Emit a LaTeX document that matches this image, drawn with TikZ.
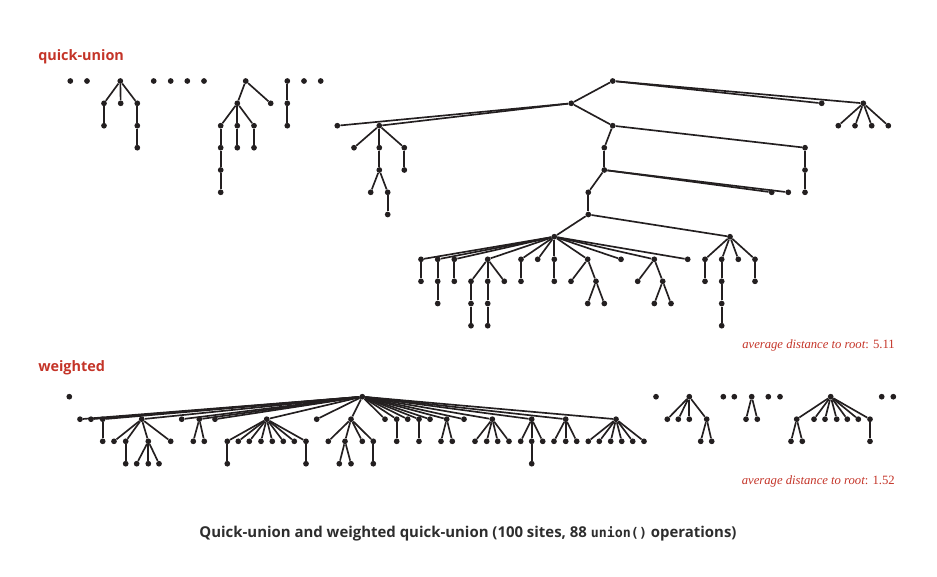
\documentclass[tikz,border=0pt]{standalone}
\usepackage{fontspec}
\setmainfont{Liberation Serif}
\newfontfamily\labfont{Open Sans}
\newfontfamily\codefont{DejaVu Sans Mono}
\definecolor{lab}{RGB}{196,52,40}
\definecolor{ink}{RGB}{35,31,32}
\definecolor{cap}{RGB}{45,45,45}
\begin{document}
\begin{tikzpicture}[x=0.75pt,y=-0.75pt,
  dot/.style={circle,fill=ink,inner sep=0pt,minimum size=4.3pt},
  edge/.style={draw=ink,line width=1.25pt},
  title/.style={anchor=base west,text=lab,font=\labfont\bfseries\fontsize{10.8}{13}\selectfont,inner sep=0pt},
  avg/.style={anchor=base east,text=lab,font=\fontsize{9.5}{11}\selectfont,inner sep=0pt}]
\useasboundingbox (0,0) rectangle (937,576);
% ---------- quick-union ----------
\foreach \n/\x/\y in {
 a1/70.3/81, a2/87/81,
 b0/120.3/81, b1/104/103.3, b2/120.7/103.3, b3/137.3/103.3, b4/104/125.7, b5/137.3/125.7, b6/137.3/147.7,
 c1/153.7/81, c2/170.7/81, c3/187.3/81, c4/204/81,
 d0/245.7/81, d1/237.3/103.3, d2/270.7/103.3, d3/220.7/125.7, d4/237.3/125.7, d5/254/125.7,
 d6/220.7/147.7, d7/220.7/170, d8/220.7/192.3, d9/237.3/147.7, d10/254/147.7,
 e0/287.3/81, e1/287.3/103.3, e2/287.3/125.7, f1/304/81, f2/320.7/81,
 R/612.7/81, A/571.3/103.3, B/821.7/103.3, C/863.3/103.3,
 C1/838.3/125.7, C2/855/125.7, C3/871.7/125.7, C4/888.3/125.7,
 g1/337.3/125.7, g2/379.3/125.7, D/612.7/125.7,
 g3/354/147.7, g4/379.3/147.7, g5/404.3/147.7, g6/404.3/170, g7/379.3/170,
 g8/370.7/192.3, g9/387.7/192.3, g10/387.7/214.5,
 h1/805/147.7, h2/805/170, h3/805/192.3, E/604.3/147.7, F/604.3/170,
 k1/771.7/192.3, k2/788.3/192.3, G/588.3/192.3, H/588.3/214.5,
 hub/554.3/236.7, T/730/236.7,
 m1/421/259.3, m2/437.7/259.3, m3/454.3/259.3, m4/487.7/259.3, m5/521/259.3, m6/537.7/259.3,
 m7/554.3/259.3, m8/587.7/259.3, m9/621/259.3, m10/654.3/259.3, m11/687.7/259.3,
 n1/421/281.3, n2/437.7/281.3, n3/437.7/303.5, n4/454.3/281.3,
 n5/471/281.3, n6/487.7/281.3, n7/504.3/281.3, n8/471/303.5, n9/471/325.7, n10/487.7/303.5, n11/487.7/325.7,
 n12/521/281.3, n13/554.3/281.3, n14/571/281.3, n15/596/281.3, n16/587.7/303.5, n17/604.3/303.5,
 n18/637.7/281.3, n19/662.7/281.3, n20/654.3/303.5, n21/671/303.5,
 t1/705/259.3, t2/721.7/259.3, t3/738.3/259.3, t4/755/259.3, t5/705/281.3,
 t6/721.7/281.3, t7/721.7/303.5, t8/721.7/325.7, t9/755/281.3}
 \node[dot] (\n) at (\x,\y) {};
\foreach \a/\b in {b0/b1,b0/b2,b0/b3,b1/b4,b3/b5,b5/b6,
 d0/d1,d0/d2,d1/d3,d1/d4,d1/d5,d3/d6,d6/d7,d7/d8,d4/d9,d5/d10,e0/e1,e1/e2,
 R/A,R/B,R/C,C/C1,C/C2,C/C3,C/C4,A/g1,A/g2,A/D,
 g2/g3,g2/g4,g2/g5,g5/g6,g4/g7,g7/g8,g7/g9,g9/g10,
 D/h1,h1/h2,h2/h3,D/E,E/F,F/k1,F/k2,F/G,G/H,H/hub,H/T,
 hub/m1,hub/m2,hub/m3,hub/m4,hub/m5,hub/m6,hub/m7,hub/m8,hub/m9,hub/m10,hub/m11,
 m1/n1,m2/n2,n2/n3,m3/n4,m4/n5,m4/n6,m4/n7,n5/n8,n8/n9,n6/n10,n10/n11,
 m5/n12,m7/n13,m8/n14,m8/n15,n15/n16,n15/n17,m10/n18,m10/n19,n19/n20,n19/n21,
 T/t1,T/t2,T/t3,T/t4,t1/t5,t2/t6,t6/t7,t7/t8,t4/t9}
 \draw[edge] (\a) -- (\b);
% ---------- weighted ----------
\foreach \n/\x/\y in {
 p0/69.3/396.7, W/362.3/396.7,
 w1/80/419.2, w2/91/419.2, w3/102.7/419.2, w4/141.7/419.2, w5/181.7/419.2, w6/199.3/419.2, w7/215/419.2,
 w8/266.7/419.2, w9/316.7/419.2, w10/351/419.2, w11/385/419.2, w12/396.7/419.2, w13/407.7/419.2,
 w14/419/419.2, w15/430/419.2, w16/446.7/419.2, w17/464/419.2, w18/492.3/419.2, w19/531.7/419.2,
 w20/565.7/419.2, w21/616/419.2,
 x1/102.7/441.3, x2/114/441.3, x3/125.7/441.3, x4/148.3/441.3, x5/170.7/441.3,
 y1/125.7/463.7, y2/136.7/463.7, y3/148.3/463.7, y4/159/463.7,
 x6/193.3/441.3, x7/204.3/441.3,
 x8/227.3/441.3, x9/238.3/441.3, x10/249.3/441.3, x11/261/441.3, x12/272.3/441.3, x13/283.3/441.3,
 x14/294.3/441.3, x15/306/441.3, y5/227.3/463.7, y6/306/463.7,
 x16/328.3/441.3, x17/345/441.3, x18/362.3/441.3, x19/373.3/441.3,
 y7/339.3/463.7, y8/351/463.7, y9/373.3/463.7,
 x20/396.7/441.3, x21/419/441.3, x22/441/441.3, x23/452.3/441.3,
 x24/475/441.3, x25/486.7/441.3, x26/497.7/441.3, x27/509/441.3,
 x28/520.7/441.3, x29/531.7/441.3, x30/542.7/441.3, y10/531.7/463.7,
 x31/554/441.3, x32/565.7/441.3, x33/576.7/441.3,
 x34/588.3/441.3, x35/599.3/441.3, x36/610.7/441.3, x37/621.7/441.3, x38/632.7/441.3, x39/644/441.3,
 q1/656/396.7, Q1/689.3/396.7, q2/667.3/419.2, q3/678.3/419.2, q4/689.3/419.2, q5/706.7/419.2,
 q6/700.7/441.3, q7/711.7/441.3,
 q8/723.3/396.7, q9/734.3/396.7,
 Q2/751.7/396.7, q10/746/419.2, q11/757.3/419.2,
 q12/768.3/396.7, q13/780/396.7,
 Q3/830.7/396.7, r1/796.7/419.2, r2/814/419.2, r3/825/419.2, r4/836.7/419.2, r5/847.3/419.2,
 r6/858.3/419.2, r7/870/419.2, r8/791/441.3, r9/802.3/441.3, r10/870/441.3,
 q14/881.7/396.7, q15/893.3/396.7}
 \node[dot] (\n) at (\x,\y) {};
\foreach \a/\b in {W/w1,W/w2,W/w3,W/w4,W/w5,W/w6,W/w7,W/w8,W/w9,W/w10,W/w11,W/w12,W/w13,W/w14,
 W/w15,W/w16,W/w17,W/w18,W/w19,W/w20,W/w21,
 w3/x1,w4/x2,w4/x3,w4/x4,w4/x5,x3/y1,x4/y2,x4/y3,x4/y4,w6/x6,w6/x7,
 w8/x8,w8/x9,w8/x10,w8/x11,w8/x12,w8/x13,w8/x14,w8/x15,x8/y5,x15/y6,
 w10/x16,w10/x17,w10/x18,w10/x19,x17/y7,x17/y8,x19/y9,
 w12/x20,w14/x21,w16/x22,w16/x23,w18/x24,w18/x25,w18/x26,w18/x27,
 w19/x28,w19/x29,w19/x30,x29/y10,w20/x31,w20/x32,w20/x33,
 w21/x34,w21/x35,w21/x36,w21/x37,w21/x38,w21/x39,
 Q1/q2,Q1/q3,Q1/q4,Q1/q5,q5/q6,q5/q7,Q2/q10,Q2/q11,
 Q3/r1,Q3/r2,Q3/r3,Q3/r4,Q3/r5,Q3/r6,Q3/r7,r1/r8,r1/r9,r7/r10}
 \draw[edge] (\a) -- (\b);
% ---------- labels ----------
\node[title] (t1l) at (38,60) {quick-union};
\node[title] (t2l) at (38,371) {weighted};
\node[avg] (av1) at (895,348) {\itshape average distance to root\upshape: 5.11};
\node[avg] (av2) at (895,484) {\itshape average distance to root\upshape: 1.52};
\node[anchor=base,text=cap,inner sep=0pt,font=\labfont\bfseries\fontsize{11.2}{13}\selectfont] (capt) at (468,537)
 {Quick-union and weighted quick-union (100 sites, 88 {\codefont\fontsize{10}{12}\selectfont union()} operations)};
\end{tikzpicture}
\end{document}
